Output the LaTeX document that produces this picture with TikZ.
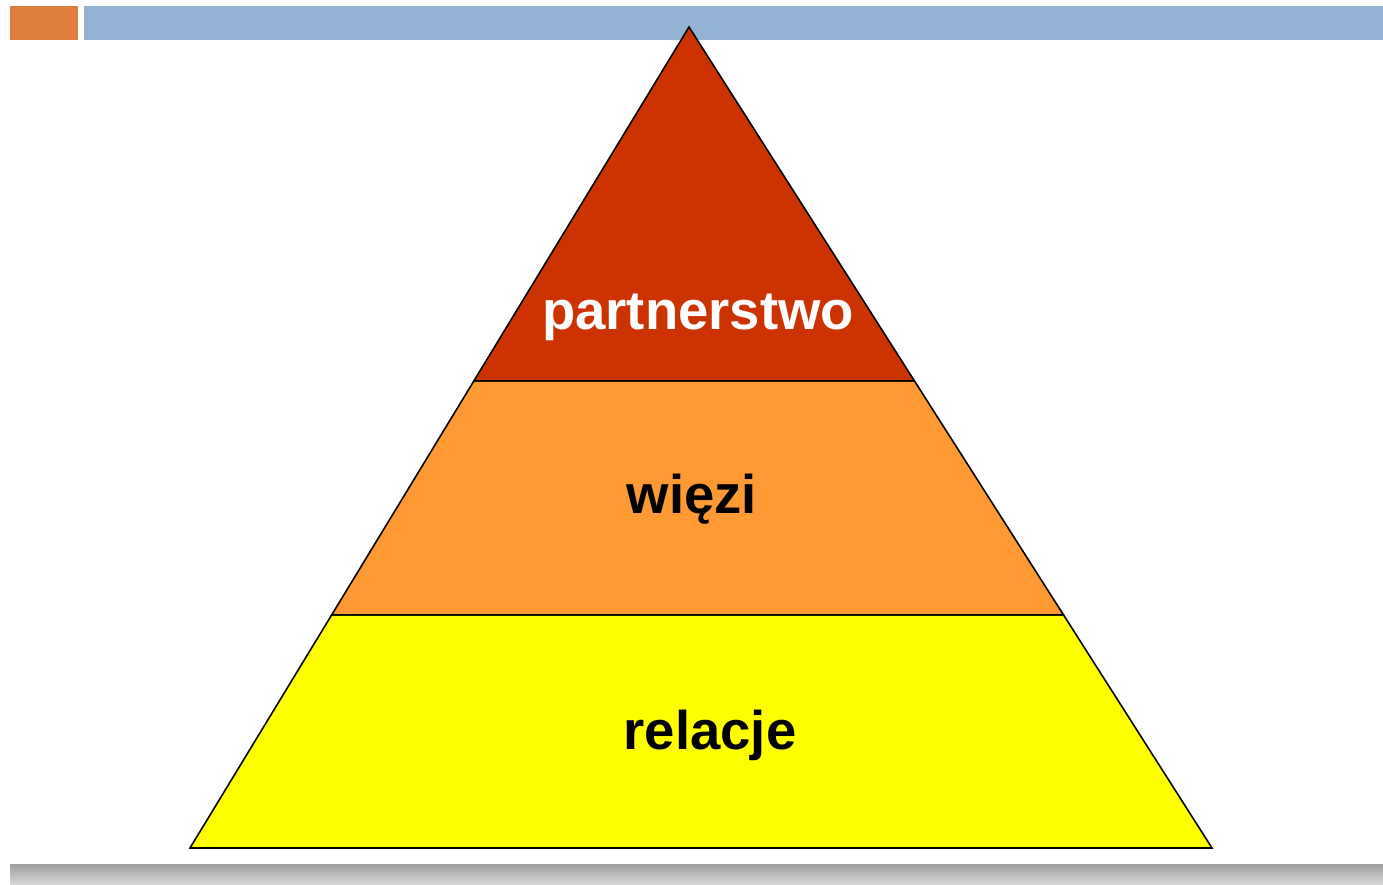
\documentclass[tikz,border=0pt]{standalone}
\usepackage{fontspec}
\setmainfont{Liberation Sans}
\usepackage{tikz}
\usetikzlibrary{positioning,calc}

\definecolor{topred}{HTML}{CC3300}
\definecolor{midorange}{HTML}{FF9933}
\definecolor{lowyellow}{HTML}{FFFF00}
\definecolor{barblue}{HTML}{93B3D4}
\definecolor{barorange}{HTML}{DE7E3C}

\begin{document}
\begin{tikzpicture}[
  x=0.02cm, y=-0.02cm,
  level/.style={draw=black,line width=0.9pt,line join=miter},
  label/.style={font=\fontsize{31}{31}\selectfont\bfseries,anchor=base,inner sep=0pt}
]
\useasboundingbox (0,0) rectangle (1383,885);

% slide bars
\fill[barorange] (10,6) rectangle (78,40);
\fill[barblue] (84,6) rectangle (1383,40);
\shade[top color=gray!75,bottom color=gray!30] (10,864) rectangle (1383,885);

% pyramid corners
\coordinate (apex) at (689,27);
\coordinate (bl) at (190,848);
\coordinate (br) at (1212,848);
\coordinate (ul) at ($(apex)!0.431!(bl)$);
\coordinate (ur) at ($(apex)!0.431!(br)$);
\coordinate (ml) at ($(apex)!0.716!(bl)$);
\coordinate (mr) at ($(apex)!0.716!(br)$);

\draw[level,fill=lowyellow] (ml) -- (mr) -- (br) -- (bl) -- cycle;
\draw[level,fill=midorange] (ul) -- (ur) -- (mr) -- (ml) -- cycle;
\draw[level,fill=topred] (apex) -- (ur) -- (ul) -- cycle;

\node[label,text=white] (top) at (698,330) {partnerstwo};
\node[label] (mid) at (692,513) {więzi};
\node[label] (low) at (710,749) {relacje};

\end{tikzpicture}
\end{document}
